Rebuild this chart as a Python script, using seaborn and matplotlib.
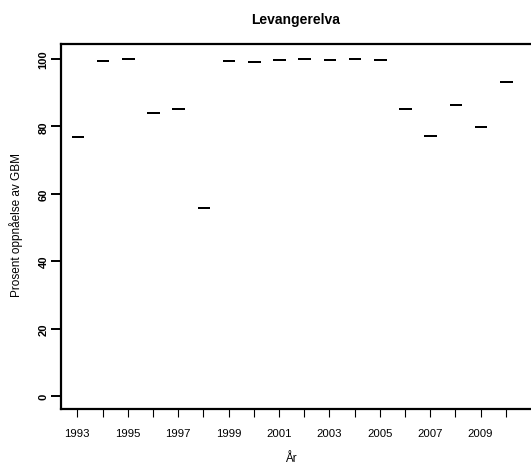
import numpy as np
import pandas as pd
import seaborn as sns
import matplotlib.pyplot as plt

# === Data ===
years = list(range(1993, 2011))
percent = [77.0, 99.5, 99.9, 84.0, 85.1, 55.9, 99.3, 99.1, 99.6,
           100.0, 99.8, 100.0, 99.6, 85.3, 77.1, 86.3, 79.7, 93.1]
y_ticks = [0, 20, 40, 60, 80, 100]

df = pd.DataFrame({"year": [str(y) for y in years], "pct": percent})

sns.set_style("white")
plt.rcParams["font.family"] = ["Liberation Sans", "DejaVu Sans"]
plt.rcParams["text.color"] = "black"
plt.rcParams["xtick.color"] = "black"
plt.rcParams["ytick.color"] = "black"

fig = plt.figure(figsize=(5.31, 4.64), dpi=100)
ax = fig.add_axes([61 / 531, 54 / 464, 480 / 531, 365 / 464])

# one value per year -> boxplot collapses to its median line
sns.boxplot(data=df, x="year", y="pct", ax=ax, width=0.46, fill=False,
            color="black", linecolor="black", linewidth=1.3,
            whis=0, showfliers=False, showcaps=False)
for ln in ax.lines:
    ln.set_solid_capstyle("butt")
for p in ax.patches:
    p.set_capstyle("butt")

ax.set_xlim(-0.647, -0.647 + 480 / 25.2)
ax.set_ylim(-3.86, 104.46)

ax.set_xticks(range(len(years)))
ax.set_xticklabels([str(y) if (y - 1993) % 2 == 0 else "" for y in years],
                   fontsize=8.2)
ax.set_yticks(y_ticks)
ax.set_yticklabels([str(t) for t in y_ticks], fontsize=8,
                   fontweight="bold", rotation=90, va="center")
ax.tick_params(axis="x", direction="out", length=6, width=0.8, pad=8,
               bottom=True, color="black")
ax.tick_params(axis="y", direction="out", length=7, width=1.4, pad=2,
               left=True, color="black")
ax.set_xlabel("")
ax.set_ylabel("")
for s in ax.spines.values():
    s.set_linewidth(1.6)
    s.set_color("black")

fig.text(296 / 531, 1 - 20 / 464, "Levangerelva", ha="center", va="center",
         fontsize=10, fontweight="bold")
fig.text(16 / 531, 1 - 225 / 464, "Prosent oppnåelse av GBM", rotation=90,
         ha="center", va="center", fontsize=8.5)
fig.text(291 / 531, 1 - 459 / 464, "År", ha="center", va="center",
         fontsize=8.5)

plt.savefig("out.png", dpi=100)
